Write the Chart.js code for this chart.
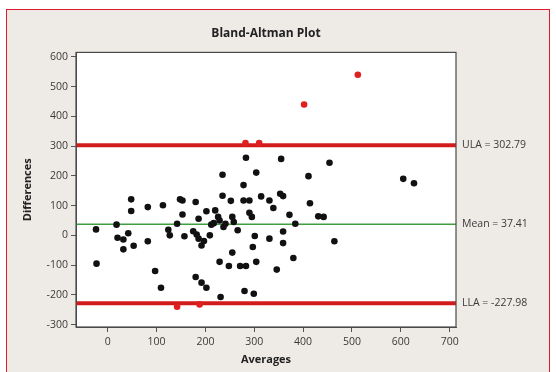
<!DOCTYPE html>
<html>
<head>
<meta charset="utf-8">
<title>Bland-Altman Plot</title>
<script src="https://cdn.jsdelivr.net/npm/chart.js@4/dist/chart.umd.min.js"></script>
<style>
html,body{margin:0;height:100%;overflow:hidden;background:#fff;}
#frame{position:absolute;left:6px;top:9px;width:542px;height:380px;border:1px solid #e3182f;background:#eeebe6;}
#c{position:absolute;left:0;top:0;}
</style>
</head>
<body>
<div id="frame"></div>
<canvas id="c" width="556" height="372"></canvas>
<script>
// averages of the two methods and their differences, one entry per subject
const avgs = [-24,-23,18,20,32,42,32,53,48,48,82,82,113,97,109,124,127,142,148,153,
  153,157,180,175,182,186,197,192,209,202,220,226,186,217,212,229,237,241,255,258,
  266,290,295,235,283,304,278,235,252,278,290,301,297,255,229,248,271,283,304,180,
  192,202,231,280,299,355,454,411,314,331,353,359,339,414,372,384,431,442,359,359,
  331,464,380,346,605,627,512,402,282,310,142,188];
const diffs = [20,-95,36,-8,-14,7,-47,-35,121,82,95,-20,101,-120,-176,19,0,39,121,117,
  70,-3,112,14,3,-11,-19,-34,0,81,84,62,56,41,36,50,28,39,62,45,
  17,76,62,204,261,211,169,133,116,117,117,-2,-39,-58,-89,-103,-103,-103,-89,-140,
  -159,-176,-207,-187,-196,257,244,199,131,117,140,132,92,108,69,39,64,62,13,-26,
  -11,-20,-76,-115,190,175,540,440,310,310,-240,-232];

// limits of agreement
const limitNames = ["ULA", "Mean", "LLA"];
const limitVals = [302.79, 37.41, -227.98];

const xTicks = [0,100,200,300,400,500,600,700];
const yTicks = [-300,-200,-100,0,100,200,300,400,500,600];
const xMin = -65, xMax = 713, yMin = -308, yMax = 615;

Chart.defaults.font.family = "'Open Sans','Noto Sans',sans-serif";
Chart.defaults.color = "#3a3a3a";

const ula = limitVals[0], mean = limitVals[1], lla = limitVals[2];
const outside = v => v > ula || v < lla;

function hLine(y, color, w){
  return {
    type:"line", data:[{x:xMin,y:y},{x:xMax,y:y}],
    borderColor:color, borderWidth:w, pointRadius:0, order:2
  };
}

const plotBox = {
  id:"plotBox",
  beforeDraw(chart){
    const {ctx, chartArea:a} = chart;
    ctx.save();
    ctx.fillStyle = "#fff";
    ctx.fillRect(a.left, a.top, a.width, a.height);
    ctx.restore();
  },
  afterDraw(chart){
    const {ctx, chartArea:a} = chart;
    ctx.save();
    ctx.strokeStyle = "#4a4a4a";
    ctx.lineWidth = 1.2;
    ctx.strokeRect(a.left, a.top, a.width, a.height);
    ctx.restore();
  }
};

new Chart(document.getElementById("c"), {
  type:"scatter",
  data:{
    datasets:[
      {
        data: avgs.map((a,i)=>({x:a, y:diffs[i]})),
        pointRadius:3.3, pointBorderWidth:0,
        pointBackgroundColor: c => outside(diffs[c.dataIndex]) ? "#e0201e" : "#111",
        order:0
      },
      hLine(ula, "#d21c1c", 4),
      hLine(mean, "#3f9f3f", 1.6),
      hLine(lla, "#d21c1c", 4)
    ]
  },
  options:{
    responsive:false,
    animation:false,
    events:[],
    layout:{padding:{left:21, right:0, top:0, bottom:6}},
    plugins:{
      legend:{display:false},
      tooltip:{enabled:false},
      title:{
        display:true, text:"Bland-Altman Plot", fullSize:false,
        color:"#222", font:{size:12, weight:"bold"},
        padding:{top:26, bottom:12}
      }
    },
    scales:{
      x:{
        min:xMin, max:xMax,
        afterBuildTicks: s => { s.ticks = xTicks.map(v=>({value:v})); },
        afterFit: s => { s.height = 39; },
        grid:{drawOnChartArea:false, color:"#555", tickLength:5},
        border:{color:"#4a4a4a"},
        ticks:{font:{size:10.5}, padding:4, maxRotation:0, autoSkip:false},
        title:{display:true, text:"Averages", color:"#222", font:{size:11, weight:"bold"}, padding:0}
      },
      y:{
        min:yMin, max:yMax,
        afterBuildTicks: s => { s.ticks = yTicks.map(v=>({value:v})); },
        afterFit: s => { s.width = 55; },
        grid:{drawOnChartArea:false, color:"#555", tickLength:5},
        border:{color:"#4a4a4a"},
        ticks:{font:{size:10.5}, padding:3, autoSkip:false},
        title:{display:true, text:"Differences", color:"#222", font:{size:11, weight:"bold"}, padding:0}
      },
      yLim:{
        position:"right", min:yMin, max:yMax,
        afterBuildTicks: s => { s.ticks = limitVals.map(v=>({value:v})); },
        afterFit: s => { s.width = 100; },
        grid:{display:false, drawTicks:false},
        border:{display:false},
        ticks:{
          font:{size:10.5}, padding:6, autoSkip:false,
          callback:(v,i) => limitNames[i] + " = " + limitVals[i].toFixed(2)
        }
      }
    }
  },
  plugins:[plotBox]
});
</script>
</body>
</html>
